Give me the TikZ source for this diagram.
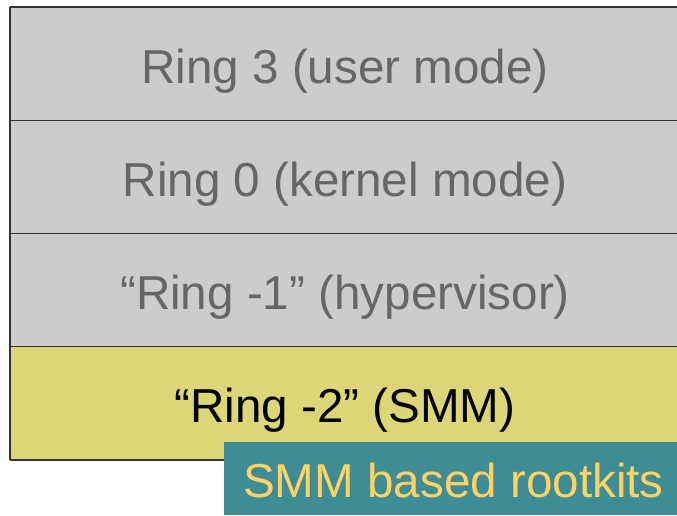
\documentclass[tikz,border=0pt]{standalone}
\usepackage{fontspec}
\setmainfont{Liberation Sans}
\usepackage{tikz}
\definecolor{ringgray}{HTML}{CCCCCC}
\definecolor{ringtext}{HTML}{666666}
\definecolor{smmyellow}{HTML}{DCD679}
\definecolor{kitteal}{HTML}{3E8C94}
\definecolor{kittext}{HTML}{FFD265}
\definecolor{edge}{HTML}{333333}
\begin{document}
\begin{tikzpicture}[x=1pt,y=-1pt,
  band/.style={font=\fontsize{47.6}{52}\selectfont,inner sep=0,anchor=base}]
 \newcommand{\bh}{113.25}
 \useasboundingbox (0,0) rectangle (677,515);

% Bands (no border on the right side)
 \fill[ringgray] (10,7) rectangle (677,346.75);
 \fill[smmyellow] (10,346.75) rectangle (677,460);
 \foreach \i in {0,...,4}
  \draw[edge,line width=1.2pt] (10,7+\i*\bh) -- (677,7+\i*\bh);
 \draw[edge,line width=1.2pt] (10,7) -- (10,460);

% Labels
 \node[band,text=ringtext] (r3) at (345,83) {Ring 3 (user mode)};
 \node[band,text=ringtext] (r0) at (345,196.3) {Ring 0 (kernel mode)};
 \node[band,text=ringtext] (rm1) at (345,309.5) {“Ring -1” (hypervisor)};
 \node[band,text=black] (rm2) at (345,422.8) {“Ring -2” (SMM)};

% Rootkit box
 \fill[kitteal] (224,442) rectangle (677,515);
 \node[band,text=kittext] (kit) at (453.5,497) {SMM based rootkits};
\end{tikzpicture}
\end{document}
